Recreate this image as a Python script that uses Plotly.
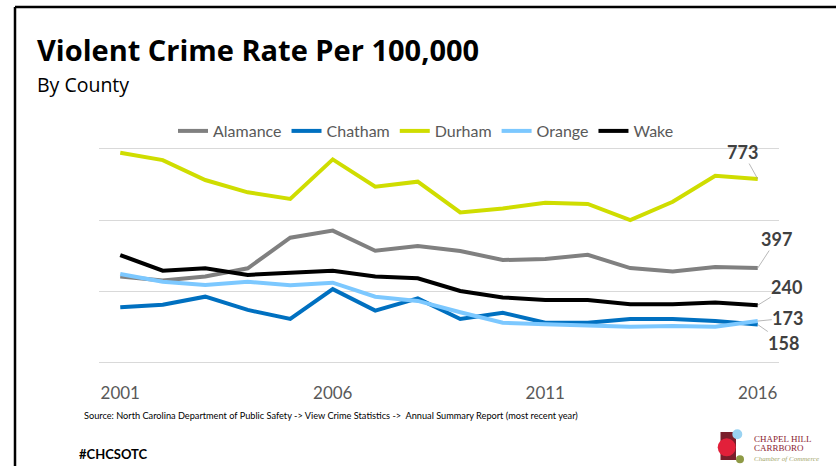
import plotly.graph_objects as go

# violent crimes per 100,000 residents
years = list(range(2001, 2017))
alamance = [361, 344, 361, 396, 525, 555, 470, 490, 469, 431, 435, 453, 397, 382, 401, 397]
chatham = [231, 242, 276, 220, 182, 308, 217, 269, 182, 208, 166, 166, 182, 182, 173, 158]
durham = [884, 853, 769, 717, 689, 856, 741, 762, 632, 649, 673, 668, 600, 677, 787, 773]
orange = [372, 339, 325, 339, 324, 335, 276, 258, 210, 166, 159, 152, 149, 152, 149, 173]
wake = [452, 386, 396, 368, 377, 386, 361, 354, 300, 273, 262, 262, 244, 244, 251, 240]

tick_years = [2001, 2006, 2011, 2016]

series = [
    ("Alamance", alamance, "#808080"),
    ("Chatham", chatham, "#0070C0"),
    ("Durham", durham, "#CFDD00"),
    ("Orange", orange, "#7CC8FF"),
    ("Wake", wake, "#000000"),
]

W, H = 836, 466
L, R, T, B = 99, 57, 149, 104
PW, PH = W - L - R, H - T - B


def px_x(p):
    return (p - L) / PW


def px_y(p):
    return (H - B - p) / PH


fig = go.Figure()
for name, vals, col in series:
    fig.add_trace(go.Scatter(x=years, y=vals, name=name, mode="lines",
                             line=dict(color=col, width=4)))

# end-of-line labels with leader lines (label offset in px)
end_labels = [
    (durham, -15, -27),
    (alamance, 19, -29),
    (wake, 29, -18),
    (orange, 30, -3),
    (chatham, 26, 18),
]
for vals, ax, ay in end_labels:
    fig.add_annotation(x=years[-1], y=vals[-1], text=str(vals[-1]),
                       showarrow=True, arrowhead=0, arrowwidth=0.8, arrowcolor="#A6A6A6",
                       ax=ax, ay=ay, standoff=0, borderpad=0,
                       font=dict(family="Lato", size=18, color="#404040", weight="bold"))

# titles and footer text
fig.add_annotation(xref="paper", yref="paper", x=px_x(35), y=px_y(49), xanchor="left", yanchor="middle",
                   text="<b>Violent Crime Rate Per 100,000</b>", showarrow=False,
                   font=dict(family="Open Sans", size=29, color="#000000"))
fig.add_annotation(xref="paper", yref="paper", x=px_x(35), y=px_y(84), xanchor="left", yanchor="middle",
                   text="By County", showarrow=False,
                   font=dict(family="Open Sans", size=19.5, color="#000000"))
fig.add_annotation(xref="paper", yref="paper", x=px_x(82), y=px_y(415), xanchor="left", yanchor="middle",
                   text="Source: North Carolina Department of Public Safety -> View Crime Statistics ->  Annual Summary Report (most recent year)",
                   showarrow=False, font=dict(family="Lato", size=9.2, color="#000000"))
fig.add_annotation(xref="paper", yref="paper", x=px_x(77), y=px_y(454), xanchor="left", yanchor="middle",
                   text="<b>#CHCSOTC</b>", showarrow=False,
                   font=dict(family="Lato", size=13, color="#000000"))

# chamber logo
fig.add_shape(type="rect", xref="paper", yref="paper", x0=px_x(720.5), x1=px_x(736), y0=px_y(460), y1=px_y(432),
              fillcolor="#7A1E2B", line_width=0)
for cx, cy, r, col in [(726.7, 447.3, 9, "#E2203A"), (737.3, 434.3, 5, "#9AD3F2"), (740, 459.3, 4, "#8E9A45")]:
    fig.add_shape(type="circle", xref="paper", yref="paper", x0=px_x(cx - r), x1=px_x(cx + r),
                  y0=px_y(cy + r), y1=px_y(cy - r), fillcolor=col, line_width=0)
for txt, cy, size, col in [("CHAPEL HILL", 438.5, 9, "#8B2332"), ("CARRBORO", 448, 9, "#8B2332"),
                           ("<i>Chamber of Commerce</i>", 459, 7, "#A3A66A")]:
    fig.add_annotation(xref="paper", yref="paper", x=px_x(752), y=px_y(cy), xanchor="left", yanchor="middle",
                       text=txt, showarrow=False,
                       font=dict(family="Liberation Serif", size=size, color=col))

# frame
fig.add_shape(type="line", xref="paper", yref="paper", x0=px_x(15), x1=px_x(840), y0=px_y(7), y1=px_y(7),
              line=dict(color="#000000", width=2.5))
fig.add_shape(type="line", xref="paper", yref="paper", x0=px_x(15), x1=px_x(15), y0=px_y(7), y1=px_y(470),
              line=dict(color="#000000", width=2.5))

fig.update_layout(
    width=W, height=H,
    margin=dict(l=L, r=R, t=T, b=B),
    paper_bgcolor="white", plot_bgcolor="white",
    showlegend=True,
    legend=dict(orientation="h", x=px_x(426), y=px_y(131), xanchor="center", yanchor="middle",
                font=dict(family="Lato", size=16, color="#595959"), itemwidth=30, traceorder="normal"),
    xaxis=dict(range=[2000.5, 2016.5], tickvals=tick_years, showgrid=False, zeroline=False,
               showline=True, mirror=True, linecolor="#D9D9D9", linewidth=1,
               ticks="", ticklabelstandoff=16,
               tickfont=dict(family="Lato", size=17, color="#595959")),
    yaxis=dict(range=[0, 900], tickvals=[0, 300, 600, 900], showticklabels=False,
               gridcolor="#D9D9D9", gridwidth=1, zeroline=False, showline=False),
)

# drop the default 8px body margin so the figure sits at the page corner
fig.write_html("out.html", config={"displayModeBar": False},
               post_script="document.body.style.margin='0';")
